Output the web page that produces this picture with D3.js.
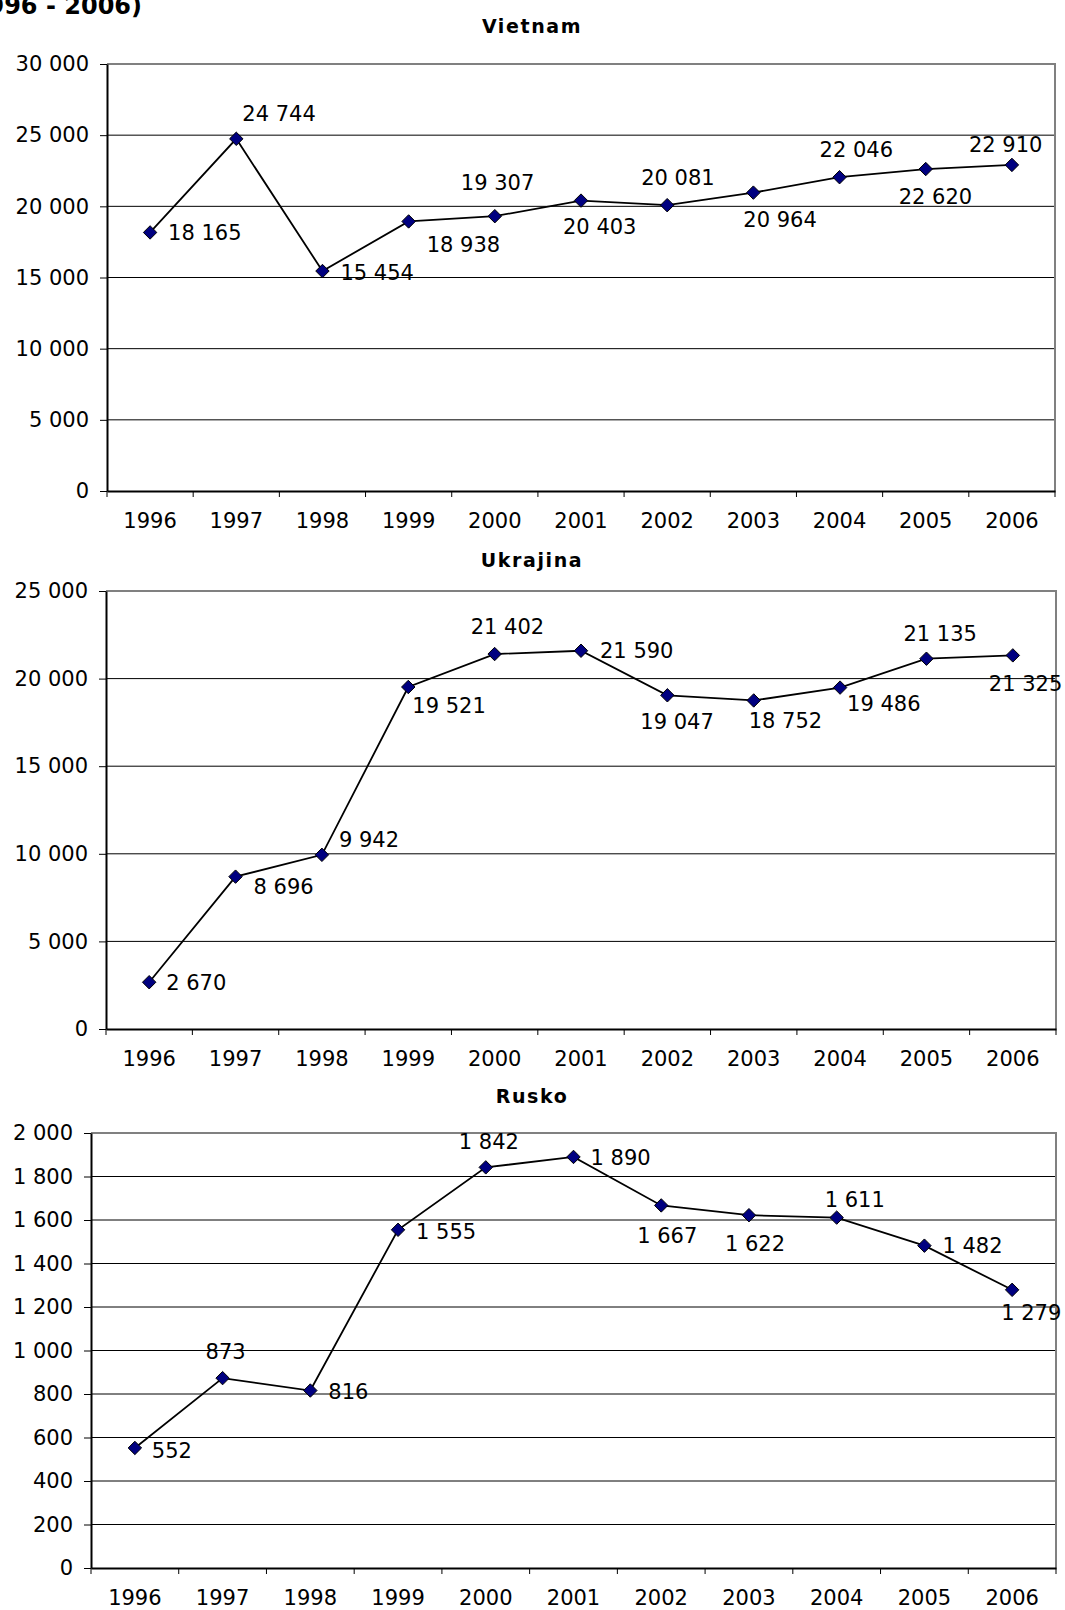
<!DOCTYPE html>
<html>
<head>
<meta charset="utf-8">
<script src="https://cdn.jsdelivr.net/npm/d3@7"></script>
<style>
  body { margin: 0; background: #fff; }
  text { font-family: "DejaVu Sans", Verdana, sans-serif; fill: #000; }
</style>
</head>
<body>
<svg id="chart" width="1065" height="1610"></svg>
<script>
// data
const years = ["1996", "1997", "1998", "1999", "2000", "2001", "2002", "2003", "2004", "2005", "2006"];
const vietnam = [18165, 24744, 15454, 18938, 19307, 20403, 20081, 20964, 22046, 22620, 22910];
const ukrajina = [2670, 8696, 9942, 19521, 21402, 21590, 19047, 18752, 19486, 21135, 21325];
const rusko = [552, 873, 816, 1555, 1842, 1890, 1667, 1622, 1611, 1482, 1279];

// where each data label sits relative to its point [dx to label start, dy to label middle]
const vietnamLabelPos = [[18, 0], [6, -25], [18, 1], [18, 23], [-34, -34], [-18, 26], [-26, -28], [-10, 27], [-20, -28], [-27, 27], [-43, -20]];
const ukrajinaLabelPos = [[17, 0], [18, 10], [17, -15], [4, 18], [-24, -28], [19, 0], [-27, 26], [-5, 20], [7, 16], [-23, -25], [-24, 28]];
const ruskoLabelPos = [[17, 2], [-17, -27], [18, 1], [18, 2], [-27, -26], [17, 1], [-24, 30], [-24, 28], [-12, -18], [18, 0], [-11, 23]];

const fmt = d3.formatLocale({ decimal: ",", thousands: " ", grouping: [3], currency: ["", ""] }).format(",d");

const svg = d3.select('#chart');

// page heading, cut off at the top-left edge like the scan
svg.append('text')
  .attr('x', 142)
  .attr('y', 14)
  .style('text-anchor', 'end')
  .style('font-size', '24px')
  .style('font-weight', 'bold')
  .text('(1996 - 2006)');

const charts = [
  { title: 'Vietnam', titleGap: 31, values: vietnam, labelPos: vietnamLabelPos, yMax: 30000, yStep: 5000, left: 107, right: 1055, top: 64, bottom: 491 },
  { title: 'Ukrajina', titleGap: 24, values: ukrajina, labelPos: ukrajinaLabelPos, yMax: 25000, yStep: 5000, left: 106, right: 1056, top: 591, bottom: 1029 },
  { title: 'Rusko', titleGap: 30, values: rusko, labelPos: ruskoLabelPos, yMax: 2000, yStep: 200, left: 91, right: 1056, top: 1133, bottom: 1568 }
];

charts.forEach(drawChart);

function drawChart(cfg) {
  const g = svg.append('g');

  const x = d3.scaleBand().domain(years).range([cfg.left, cfg.right]);
  const y = d3.scaleLinear().domain([0, cfg.yMax]).range([cfg.bottom, cfg.top]);
  const yTicks = d3.range(0, cfg.yMax + 1, cfg.yStep);

  // title
  g.append('text')
    .attr('x', 532)
    .attr('y', cfg.top - cfg.titleGap)
    .style('text-anchor', 'middle')
    .style('font-size', '19px')
    .style('font-weight', 'bold')
    .style('letter-spacing', '1.6px')
    .text(cfg.title);

  // horizontal gridlines
  g.append('g')
    .selectAll('line.grid')
    .data(yTicks.filter(t => t > 0 && t < cfg.yMax))
    .join('line')
    .attr('x1', cfg.left)
    .attr('x2', cfg.right)
    .attr('y1', d => y(d))
    .attr('y2', d => y(d))
    .attr('stroke', '#000')
    .attr('stroke-width', 1);

  // plot area border (top + right)
  g.append('path')
    .attr('d', `M${cfg.left},${cfg.top}H${cfg.right}V${cfg.bottom}`)
    .attr('fill', 'none')
    .attr('stroke', '#808080')
    .attr('stroke-width', 2);

  // y axis
  const yAxis = g.append('g')
    .attr('transform', `translate(${cfg.left},0)`)
    .call(d3.axisLeft(y).tickValues(yTicks).tickFormat(fmt).tickSize(7).tickPadding(11).tickSizeOuter(0));
  yAxis.select('.domain').attr('stroke', '#000').attr('stroke-width', 2);
  yAxis.selectAll('.tick line').attr('stroke', '#000');
  yAxis.selectAll('.tick text').style('font-size', '21px').attr('font-family', null);

  // x axis: labels in the middle of each band, ticks at the band edges
  const xAxis = g.append('g')
    .attr('transform', `translate(0,${cfg.bottom})`)
    .call(d3.axisBottom(x).tickSize(0).tickPadding(22));
  xAxis.select('.domain').attr('stroke', '#000').attr('stroke-width', 2);
  xAxis.selectAll('.tick text').style('font-size', '21px').attr('font-family', null);

  xAxis.selectAll('line.edge')
    .data(years.map(d => x(d)).concat([cfg.right]))
    .join('line')
    .classed('edge', true)
    .attr('x1', d => d)
    .attr('x2', d => d)
    .attr('y1', 0)
    .attr('y2', 6)
    .attr('stroke', '#000');

  const cx = (d, i) => x(years[i]) + x.bandwidth() / 2;

  // the series line
  g.append('path')
    .datum(cfg.values)
    .attr('d', d3.line().x(cx).y(d => y(d)))
    .attr('fill', 'none')
    .attr('stroke', '#000')
    .attr('stroke-width', 1.8);

  // diamond markers
  g.selectAll('path.marker')
    .data(cfg.values)
    .join('path')
    .classed('marker', true)
    .attr('d', d3.symbol().type(d3.symbolDiamond2).size(115))
    .attr('transform', (d, i) => `translate(${cx(d, i)},${y(d)})`)
    .attr('fill', '#000080')
    .attr('stroke', '#000')
    .attr('stroke-width', 1);

  // data labels
  g.selectAll('text.value')
    .data(cfg.values)
    .join('text')
    .classed('value', true)
    .attr('x', (d, i) => cx(d, i) + cfg.labelPos[i][0])
    .attr('y', (d, i) => y(d) + cfg.labelPos[i][1])
    .attr('dy', '0.36em')
    .style('font-size', '21px')
    .text(d => fmt(d));
}
</script>
</body>
</html>
